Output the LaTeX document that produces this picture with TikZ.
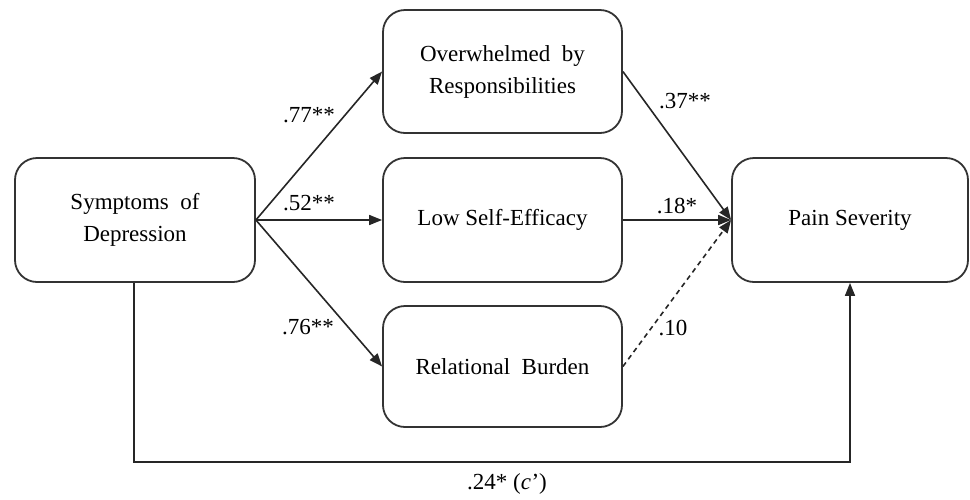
\documentclass[tikz,border=0pt]{standalone}
\usepackage{fontspec}
\setmainfont{Liberation Serif}
\usetikzlibrary{arrows.meta}
\newcommand{\wsp}{\hspace{0.5em}}
\begin{document}
\begin{tikzpicture}[x=1pt,y=-1pt,
  box/.style={draw=black!80, line width=1.8pt, rounded corners=22pt, align=center,
    font=\fontsize{23}{32}\selectfont, inner sep=0pt},
  lbl/.style={font=\fontsize{23}{28}\selectfont, inner sep=0pt},
  conn/.style={line width=1.6pt, draw=black!85, -{Triangle[length=13pt,width=10pt]}},
  dashconn/.style={conn, dash pattern=on 5pt off 4pt}]
\useasboundingbox (0,0) rectangle (970,499);
\node[box, minimum width=240pt, minimum height=124pt] (sym) at (135,220) {Symptoms\wsp of\\Depression};
\node[box, minimum width=239pt, minimum height=123pt] (ovr) at (502.5,71.5) {Overwhelmed\wsp by\\Responsibilities};
\node[box, minimum width=239pt, minimum height=124pt] (low) at (502.5,220) {Low Self-Efficacy};
\node[box, minimum width=239pt, minimum height=121pt] (rel) at (502.5,366.5) {Relational\wsp Burden};
\node[box, minimum width=236pt, minimum height=124pt] (pain) at (850,220) {Pain Severity};
\coordinate (bl) at (134,462);
\draw[conn] (sym.east) -- (ovr.west);
\draw[conn] (sym.east) -- (low.west);
\draw[conn] (sym.east) -- (rel.west);
\draw[conn] (ovr.east) -- (pain.west);
\draw[conn] (low.east) -- (pain.west);
\draw[dashconn] (rel.east) -- (pain.west);
\draw[conn] (sym.south -| bl) -- (bl) -| (pain.south);
\node[lbl] (l77) at (309,115) {.77**};
\node[lbl] (l52) at (309,203) {.52**};
\node[lbl] (l76) at (308,327) {.76**};
\node[lbl] (l37) at (685,101) {.37**};
\node[lbl] (l18) at (677,206) {.18*};
\node[lbl] (l10) at (673,328) {.10};
\node[lbl] (l24) at (507,484) {.24* (\textit{c}\kern0.5pt’)};
\end{tikzpicture}
\end{document}
